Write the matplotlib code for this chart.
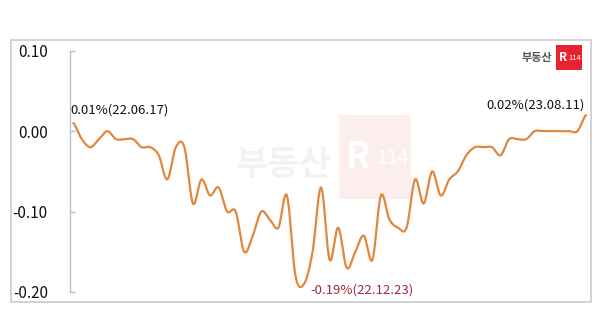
import numpy as np
import matplotlib
matplotlib.use("Agg")
import matplotlib.pyplot as plt
from matplotlib.patches import Rectangle

plt.rcParams['font.family'] = ['Noto Sans CJK KR', 'DejaVu Sans']

# Weekly apartment price change (%), 22.06.17 .. 23.08.11
values = [0.01, -0.01, -0.02, -0.01, 0.00, -0.01, -0.01, -0.01, -0.02, -0.02,
          -0.03, -0.06, -0.02, -0.02, -0.09, -0.06, -0.08, -0.07, -0.10, -0.10,
          -0.15, -0.13, -0.10, -0.11, -0.12, -0.08, -0.18, -0.19, -0.15, -0.07,
          -0.16, -0.12, -0.17, -0.15, -0.13, -0.16, -0.08, -0.11, -0.12, -0.12,
          -0.06, -0.09, -0.05, -0.08, -0.06, -0.05, -0.03, -0.02, -0.02, -0.02,
          -0.03, -0.01, -0.01, -0.01, 0.00, 0.00, 0.00, 0.00, 0.00, 0.00,
          0.02]
yticks = [0.10, 0.00, -0.10, -0.20]
ytick_labels = ['0.10', '0.00', '-0.10', '-0.20']
label_start = '0.01%(22.06.17)'
label_min = '-0.19%(22.12.23)'
label_end = '0.02%(23.08.11)'

line_color = '#e0883e'


def smooth(y, n=20):
    """Catmull-Rom smoothing (like a spreadsheet 'smoothed line')."""
    y = np.asarray(y, dtype=float)
    yp = np.concatenate([[y[0]], y, [y[-1]]])
    xs, ys = [], []
    for i in range(len(y) - 1):
        p0, p1, p2, p3 = yp[i], yp[i + 1], yp[i + 2], yp[i + 3]
        m1 = (p2 - p0) / 2.0
        m2 = (p3 - p1) / 2.0
        t = np.linspace(0, 1, n, endpoint=False)
        h00 = 2 * t**3 - 3 * t**2 + 1
        h10 = t**3 - 2 * t**2 + t
        h01 = -2 * t**3 + 3 * t**2
        h11 = t**3 - t**2
        xs.append(i + t)
        ys.append(h00 * p1 + h10 * m1 + h01 * p2 + h11 * m2)
    xs.append([len(y) - 1])
    ys.append([y[-1]])
    return np.concatenate(xs), np.concatenate(ys)


W, H = 600, 313
fig = plt.figure(figsize=(6.0, 3.13), dpi=100)
fig.patch.set_facecolor('white')

# outer frame
fig.add_artist(Rectangle((10.7 / W, 1 - 302 / H), (590.5 - 10.7) / W, (302 - 40) / H,
                         transform=fig.transFigure, fill=False,
                         edgecolor='#cfcfcf', lw=1.3, zorder=0))

# faint watermark
fig.add_artist(Rectangle((339 / W, 1 - 199 / H), (411 - 339) / W, (199 - 115) / H,
                         transform=fig.transFigure, facecolor='#fdeeee',
                         edgecolor='none', zorder=0))
fig.text(358 / W, 1 - 158 / H, 'R', color='white', fontsize=26,
         fontweight='bold', ha='center', va='center', zorder=0.5)
fig.text(393 / W, 1 - 158 / H, '114', color='white', fontsize=14,
         fontweight='normal', ha='center', va='center', zorder=0.5)
fig.text(284 / W, 1 - 164 / H, '부동산', color='#f2f2f2', fontsize=25,
         fontweight='bold', ha='center', va='center', zorder=0.5)

# top-right logo
fig.add_artist(Rectangle((556 / W, 1 - 70 / H), 26 / W, 25 / H,
                         transform=fig.transFigure, facecolor='#e8232f',
                         edgecolor='none', zorder=2))
fig.text(563 / W, 1 - 57.5 / H, 'R', color='white', fontsize=8.5,
         fontweight='bold', ha='center', va='center', zorder=3)
fig.text(574.5 / W, 1 - 57.5 / H, '114', color='white', fontsize=5.5,
         fontweight='normal', ha='center', va='center', zorder=3)
fig.text(552 / W, 1 - 57 / H, '부동산', color='#555555', fontsize=8,
         fontweight='bold', ha='right', va='center', zorder=3)

# axes
x0, x60 = 73.3, 586.0
ppw = (x60 - x0) / 60
ax_left, ax_right = 70.0, 590.0
ax_top, ax_bot = 50.7, 292.0
ax = fig.add_axes([ax_left / W, 1 - ax_bot / H, (ax_right - ax_left) / W,
                   (ax_bot - ax_top) / H])
ax.set_facecolor('none')
ax.set_xlim(-(x0 - ax_left) / ppw, 60 + (ax_right - x60) / ppw)
ax.set_ylim(-0.20, 0.10)

xs, ys = smooth(values)
ax.plot(xs, ys, color=line_color, lw=1.6, solid_capstyle='round', zorder=3)

for s in ['top', 'right', 'bottom']:
    ax.spines[s].set_visible(False)
ax.spines['left'].set_color('#bfbfbf')
ax.spines['left'].set_linewidth(1.0)
ax.set_xticks([])
ax.set_yticks(yticks)
ax.set_yticklabels(ytick_labels)
ax.tick_params(axis='y', direction='in', length=3.5, width=1.0, color='#bfbfbf',
               labelsize=11, pad=16, labelcolor='#111111')

upp = 0.30 / (ax_bot - ax_top)  # data units per pixel (y)
ax.text(-0.3, 0.10 - (110 - ax_top) * upp, label_start, fontsize=9.5,
        color='#111111', ha='left', va='center', clip_on=False)
ax.text(59.9, 0.10 - (105 - ax_top) * upp, label_end, fontsize=9.5,
        color='#111111', ha='right', va='center', clip_on=False)
ax.text((310 - x0) / ppw, 0.10 - (290 - ax_top) * upp, label_min, fontsize=9.5,
        color='#a3283a', ha='left', va='center', clip_on=False)

fig.savefig('out.png', dpi=100, facecolor='white')
